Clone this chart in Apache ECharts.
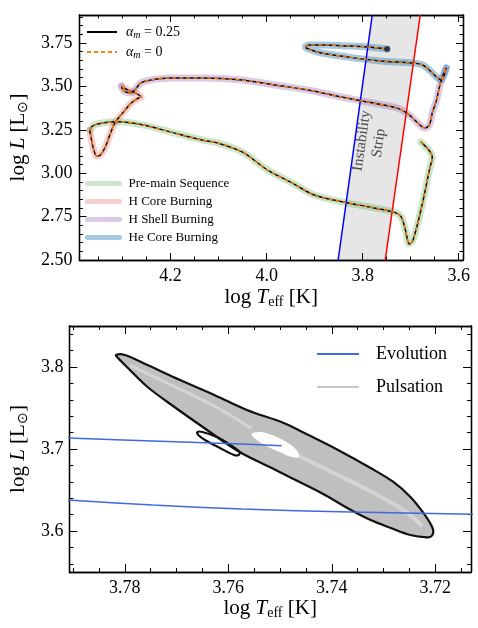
<!DOCTYPE html>
<html><head><meta charset="utf-8">
<script src="https://cdn.jsdelivr.net/npm/echarts@6/dist/echarts.min.js"></script>
<style>html,body{margin:0;padding:0;background:#fff}#c{width:478px;height:628px}</style>
</head><body><div id="c"></div>
<script>
// ---------- data (log Teff, log L) ----------
const preMainSequence = [[3.679,3.180],[3.655,3.093],[3.661,3.018],[3.677,2.807],[3.695,2.615],[3.703,2.592],[3.711,2.673],[3.720,2.750],[3.737,2.777],[3.788,2.806],[3.837,2.832],[3.901,2.874],[3.947,2.944],[3.998,3.018],[4.050,3.121],[4.102,3.174],[4.133,3.190],[4.201,3.238],[4.256,3.277],[4.311,3.296],[4.339,3.290],[4.359,3.277],[4.368,3.248]];
const hCoreBurning = [[4.368,3.248],[4.366,3.209],[4.360,3.134],[4.354,3.099],[4.346,3.105],[4.336,3.151],[4.325,3.232],[4.315,3.295],[4.298,3.353],[4.282,3.404],[4.267,3.433],[4.261,3.439],[4.273,3.462],[4.289,3.479],[4.302,3.502]];
const hShellBurning = [[4.302,3.502],[4.300,3.485],[4.294,3.468],[4.283,3.462],[4.273,3.485],[4.262,3.520],[4.241,3.537],[4.200,3.548],[4.133,3.548],[4.051,3.537],[3.983,3.508],[3.913,3.479],[3.845,3.439],[3.778,3.404],[3.729,3.376],[3.708,3.347],[3.696,3.318],[3.681,3.278],[3.671,3.260],[3.661,3.278],[3.655,3.347],[3.646,3.422],[3.640,3.497],[3.634,3.554],[3.626,3.606]];
const heCoreBurning = [[3.626,3.606],[3.636,3.537],[3.644,3.548],[3.657,3.583],[3.675,3.623],[3.696,3.635],[3.763,3.646],[3.831,3.669],[3.886,3.692],[3.913,3.715],[3.919,3.727],[3.911,3.738],[3.880,3.738],[3.831,3.733],[3.790,3.727],[3.749,3.715]];
const stripBlueEdge = [[3.851,2.5],[3.780,3.911]];
const stripRedEdge = [[3.753,2.5],[3.680,3.911]];
const stripLabelAt = [3.784,3.18];

const evolutionUpper = [[3.7910,3.7134],[3.7746,3.7098],[3.7574,3.7061],[3.7497,3.7040]];
const evolutionLower = [[3.7910,3.6378],[3.7746,3.6317],[3.7574,3.6268],[3.7363,3.6232],[3.7125,3.6205]];
const pulsationOuter = [[3.7817,3.8146],[3.7800,3.8146],[3.7756,3.8024],[3.7693,3.7841],[3.7627,3.7659],[3.7564,3.7476],[3.7493,3.7317],[3.7453,3.7195],[3.7388,3.6988],[3.7325,3.6768],[3.7281,3.6598],[3.7248,3.6415],[3.7223,3.6220],[3.7206,3.6049],[3.7204,3.5976],[3.7210,3.5927],[3.7223,3.5927],[3.7248,3.5951],[3.7286,3.6037],[3.7325,3.6134],[3.7363,3.6256],[3.7420,3.6463],[3.7478,3.6646],[3.7516,3.6768],[3.7578,3.6963],[3.7641,3.7232],[3.7704,3.7512],[3.7756,3.7756],[3.7794,3.7988],[3.7813,3.8110]];
const pulsationHole = [[3.7555,3.7183],[3.7539,3.7207],[3.7516,3.7171],[3.7491,3.7098],[3.7468,3.6988],[3.7463,3.6902],[3.7478,3.6902],[3.7501,3.6963],[3.7526,3.7037],[3.7545,3.7110]];
const pulsationFirst = [[3.7660,3.7207],[3.7650,3.7207],[3.7622,3.7146],[3.7593,3.7037],[3.7578,3.6963],[3.7580,3.6927],[3.7589,3.6927],[3.7616,3.7012],[3.7645,3.7110],[3.7658,3.7171]];
const pulsationStreakA = [[3.7790,3.8020],[3.7700,3.7750],[3.7620,3.7500],[3.7555,3.7250]];
const pulsationStreakB = [[3.7465,3.6920],[3.7400,3.6720],[3.7330,3.6500],[3.7260,3.6250],[3.7225,3.6060]];

// ---------- ticks ----------
const topXMajor = [3.6,3.8,4.0,4.2];
const topXMinor = [3.65,3.70,3.75,3.85,3.90,3.95,4.05,4.10,4.15,4.25,4.30,4.35];
const topYMajor = [2.5,2.75,3.0,3.25,3.5,3.75];
const topYMinor = [2.55,2.6,2.65,2.7,2.8,2.85,2.9,2.95,3.05,3.1,3.15,3.2,3.3,3.35,3.4,3.45,3.55,3.6,3.65,3.7,3.8,3.85,3.9];
const botXMajor = [3.72,3.74,3.76,3.78];
const botXMinor = [3.715,3.725,3.73,3.735,3.745,3.75,3.755,3.765,3.77,3.775,3.785,3.79];
const botYMajor = [3.6,3.7,3.8];
const botYMinor = [3.56,3.58,3.62,3.64,3.66,3.68,3.72,3.74,3.76,3.78,3.82,3.84];

const phaseNames = ['Pre-main Sequence','H Core Burning','H Shell Burning','He Core Burning'];
const phaseData = [preMainSequence,hCoreBurning,hShellBurning,heCoreBurning];
const phaseColors = ['rgba(44,160,44,0.25)','rgba(214,39,40,0.22)','rgba(148,103,189,0.35)','rgba(31,119,180,0.4)'];

const FONT = 'Liberation Serif';
const fullTrack = preMainSequence.concat(hCoreBurning.slice(1), hShellBurning.slice(1), heCoreBurning.slice(1));

const richName = {
  n:{fontFamily:FONT,fontSize:21,color:'#000'},
  i:{fontFamily:FONT,fontSize:21,fontStyle:'italic',color:'#000'},
  s:{fontFamily:FONT,fontSize:14,color:'#000',padding:[9,0,0,0]}
};

function mkAxis(o){
  const ax = {
    type:'value', gridIndex:o.grid, position:o.pos, min:o.min, max:o.max, inverse:!!o.inverse,
    splitLine:{show:false},
    axisLine:{show:true,onZero:false,lineStyle:{color:'#000',width:1.3}},
    axisTick:{show:true,inside:true,length:o.len,lineStyle:{color:'#000',width:1},customValues:o.ticks},
    axisLabel:{show:false}
  };
  if (o.label){
    ax.axisLabel = {show:true,customValues:o.ticks,formatter:v=>Number(v).toFixed(o.digits),
      fontFamily:FONT,fontSize:18,color:'#000',margin:o.margin};
  }
  if (o.name){
    ax.name = o.name; ax.nameLocation='middle'; ax.nameGap=o.nameGap;
    ax.nameTextStyle = {fontFamily:FONT,fontSize:21,color:'#000',rich:richName};
  }
  return ax;
}
const xName = '{n|log }{i|T}{s|eff}{n| [K]}';
const yName = '{n|log }{i|L}{n| [L}{s|⊙}{n|]}';

const xAxes = [
  mkAxis({grid:0,pos:'bottom',min:3.591,max:4.390,inverse:true,len:7,ticks:topXMajor,label:true,digits:1,margin:7,name:xName,nameGap:26}),
  mkAxis({grid:0,pos:'bottom',min:3.591,max:4.390,inverse:true,len:3.5,ticks:topXMinor}),
  mkAxis({grid:0,pos:'top',min:3.591,max:4.390,inverse:true,len:7,ticks:topXMajor}),
  mkAxis({grid:0,pos:'top',min:3.591,max:4.390,inverse:true,len:3.5,ticks:topXMinor}),
  mkAxis({grid:1,pos:'bottom',min:3.7131,max:3.7907,inverse:true,len:8,ticks:botXMajor,label:true,digits:2,margin:7,name:xName,nameGap:24}),
  mkAxis({grid:1,pos:'bottom',min:3.7131,max:3.7907,inverse:true,len:4,ticks:botXMinor}),
  mkAxis({grid:1,pos:'top',min:3.7131,max:3.7907,inverse:true,len:8,ticks:botXMajor}),
  mkAxis({grid:1,pos:'top',min:3.7131,max:3.7907,inverse:true,len:4,ticks:botXMinor})
];
const yAxes = [
  mkAxis({grid:0,pos:'left',min:2.5,max:3.911,len:7,ticks:topYMajor,label:true,digits:2,margin:7,name:yName,nameGap:40}),
  mkAxis({grid:0,pos:'left',min:2.5,max:3.911,len:3.5,ticks:topYMinor}),
  mkAxis({grid:0,pos:'right',min:2.5,max:3.911,len:7,ticks:topYMajor}),
  mkAxis({grid:0,pos:'right',min:2.5,max:3.911,len:3.5,ticks:topYMinor}),
  mkAxis({grid:1,pos:'left',min:3.55,max:3.85,len:8,ticks:botYMajor,label:true,digits:1,margin:6,name:yName,nameGap:33}),
  mkAxis({grid:1,pos:'left',min:3.55,max:3.85,len:4,ticks:botYMinor}),
  mkAxis({grid:1,pos:'right',min:3.55,max:3.85,len:8,ticks:botYMajor}),
  mkAxis({grid:1,pos:'right',min:3.55,max:3.85,len:4,ticks:botYMinor})
];

function polygonSeries(points, style, smooth, xi, z){
  return {type:'custom',coordinateSystem:'cartesian2d',xAxisIndex:xi,yAxisIndex:xi,silent:true,clip:true,z:z,
    data:[points[0]],
    renderItem:(params,api)=>({type:'polygon',shape:{points:points.map(p=>api.coord(p)),smooth:smooth},style:style})};
}

const series = [];
// instability strip fill
series.push(polygonSeries([stripBlueEdge[0],stripBlueEdge[1],stripRedEdge[1],stripRedEdge[0]],{fill:'#e6e6e6'},0,0,0));
// phase highlight bands
phaseNames.forEach((nm,k)=>series.push({type:'line',name:nm,xAxisIndex:0,yAxisIndex:0,data:phaseData[k],symbol:'none',smooth:0.3,z:1,silent:true,
  lineStyle:{color:phaseColors[k],width:7,cap:'round',join:'round'},itemStyle:{color:phaseColors[k]}}));
// strip edges
series.push({type:'line',xAxisIndex:0,yAxisIndex:0,data:stripBlueEdge,symbol:'none',z:2,silent:true,lineStyle:{color:'#0000ff',width:1.5}});
series.push({type:'line',xAxisIndex:0,yAxisIndex:0,data:stripRedEdge,symbol:'none',z:2,silent:true,lineStyle:{color:'#ff0000',width:1.5}});
// tracks
series.push({type:'line',name:'a025',xAxisIndex:0,yAxisIndex:0,data:fullTrack,symbol:'none',smooth:0.3,z:3,silent:true,
  lineStyle:{color:'#000',width:1.5},itemStyle:{color:'#000'}});
series.push({type:'line',name:'a0',xAxisIndex:0,yAxisIndex:0,data:fullTrack,symbol:'none',smooth:0.3,z:4,silent:true,
  lineStyle:{color:'#ff7f0e',width:1.5,type:[4,3]},itemStyle:{color:'#ff7f0e'}});
series.push({type:'scatter',xAxisIndex:0,yAxisIndex:0,data:[heCoreBurning[heCoreBurning.length-1]],symbolSize:6,z:5,silent:true,itemStyle:{color:'#1a2433'}});
series.push({type:'scatter',xAxisIndex:0,yAxisIndex:0,data:[stripLabelAt],symbolSize:0,z:6,silent:true,
  label:{show:true,position:'inside',rotate:82,formatter:'Instability\nStrip',fontFamily:FONT,fontSize:15,lineHeight:17,color:'#222',align:'center'}});

// bottom panel
series.push(polygonSeries(pulsationOuter,{fill:'#bfbfbf'},0.35,4,1));
series.push({type:'line',xAxisIndex:4,yAxisIndex:4,data:pulsationStreakA,symbol:'none',smooth:0.3,z:2,silent:true,lineStyle:{color:'rgba(230,230,230,0.55)',width:3}});
series.push({type:'line',xAxisIndex:4,yAxisIndex:4,data:pulsationStreakB,symbol:'none',smooth:0.3,z:2,silent:true,lineStyle:{color:'rgba(230,230,230,0.55)',width:4}});
series.push(polygonSeries(pulsationHole,{fill:'#ffffff'},0.35,4,2));
series.push(polygonSeries(pulsationOuter,{fill:'none',stroke:'#111',lineWidth:2.2},0.35,4,3));
series.push(polygonSeries(pulsationFirst,{fill:'none',stroke:'#111',lineWidth:2.2},0.35,4,3));
series.push({type:'line',name:'Evolution',xAxisIndex:4,yAxisIndex:4,data:evolutionUpper,symbol:'none',smooth:0.3,z:4,silent:true,lineStyle:{color:'#4169e1',width:1.5},itemStyle:{color:'#4169e1'}});
series.push({type:'line',name:'Evolution',xAxisIndex:4,yAxisIndex:4,data:evolutionLower,symbol:'none',smooth:0.3,z:4,silent:true,lineStyle:{color:'#4169e1',width:1.5},itemStyle:{color:'#4169e1'}});
series.push({type:'line',name:'Pulsation',xAxisIndex:4,yAxisIndex:4,data:[],symbol:'none',lineStyle:{color:'#c8c8c8',width:1.5},itemStyle:{color:'#c8c8c8'}});

const alphaRich = {
  i:{fontFamily:FONT,fontSize:14,fontStyle:'italic',color:'#000',padding:[0,0,0,4]},
  s:{fontFamily:FONT,fontSize:10,fontStyle:'italic',color:'#000',padding:[6,0,0,0]},
  t:{fontFamily:FONT,fontSize:14,color:'#000'}
};
const noSymbol = {color:'rgba(0,0,0,0)',borderColor:'rgba(0,0,0,0)',borderWidth:0,opacity:0};

const option = {
  animation:false,
  backgroundColor:'#fff',
  grid:[{left:75,top:15,width:388,height:245},{left:66,top:326,width:405,height:246}],
  xAxis:xAxes, yAxis:yAxes,
  legend:[
    {data:['a025','a0'],left:86,top:25,orient:'vertical',padding:0,itemWidth:30,itemHeight:14,itemGap:5,selectedMode:false,
      itemStyle:noSymbol,
      formatter:nm=> nm==='a025' ? '{i|α}{s|m}{t| = 0.25}' : '{i|α}{s|m}{t| = 0}',
      textStyle:{rich:alphaRich}},
    {data:phaseNames,left:85,top:177,orient:'vertical',padding:0,itemWidth:32,itemHeight:14,itemGap:5,selectedMode:false,
      itemStyle:noSymbol,
      lineStyle:{width:5},textStyle:{fontFamily:FONT,fontSize:13,color:'#000',padding:[0,0,0,4]}},
    {data:['Evolution','Pulsation'],left:316,top:345,orient:'vertical',padding:0,itemWidth:42,itemHeight:14,itemGap:15,selectedMode:false,
      itemStyle:noSymbol,
      textStyle:{fontFamily:FONT,fontSize:18,color:'#000',padding:[0,0,0,12]}}
  ],
  series:series
};
const chart = echarts.init(document.getElementById('c'),null,{renderer:'canvas'});
chart.setOption(option);
</script></body></html>
